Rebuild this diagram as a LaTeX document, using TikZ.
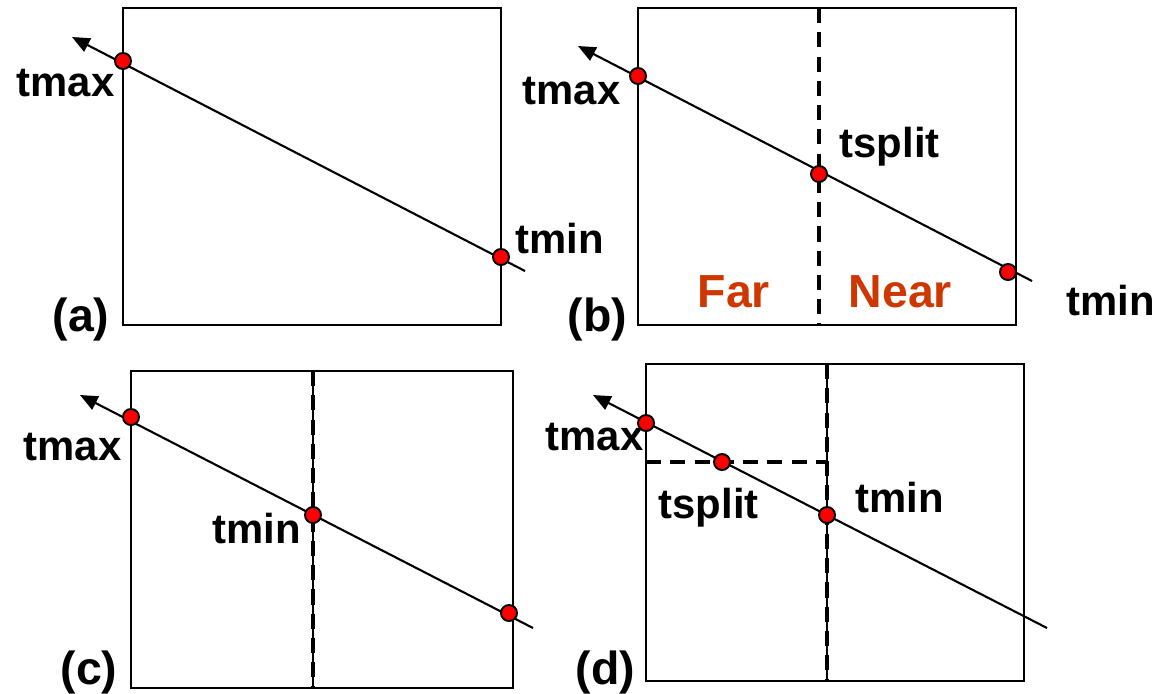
\documentclass[tikz,border=0pt]{standalone}
\usepackage{fontspec}
\setmainfont{Liberation Sans}
\usepackage{tikz}
\usetikzlibrary{arrows.meta,positioning}
\definecolor{nearred}{RGB}{206,56,0}
\tikzstyle{box} = [line width=0.75pt]
\tikzstyle{ray} = [line width=0.6pt,-{Triangle[length=5pt,width=4.2pt]}]
\tikzstyle{split} = [line width=1.1pt,dash pattern=on 4.3pt off 2.6pt]
\tikzstyle{hit} = [circle,draw=black,line width=0.55pt,fill=red,inner sep=0pt,minimum size=0.16cm]
\tikzstyle{lbl} = [inner sep=0pt,anchor=base west,font=\fontsize{11.9}{14}\selectfont\bfseries]
\tikzstyle{tag} = [inner sep=0pt,anchor=base west,font=\fontsize{13.2}{16}\selectfont\bfseries]

\begin{document}
\begin{tikzpicture}[x=0.01cm,y=-0.01cm]
	\useasboundingbox (0,0) rectangle (1158,693);
	
	\draw[box] (123,8) rectangle (501,325);
	\coordinate (a-tip) at (72,37);
	\coordinate (a-end) at (525,271);
	\draw[ray] (a-end) -- (a-tip);
	\node[hit] (a-max) at (123,61) {};
	\node[hit] (a-min) at (501,257) {};
	\node[lbl] (a-tmax) at (16,96) {tmax};
	\node[lbl] (a-tmin) at (515,253) {tmin};
	\node[tag] (a-tag) at (52,331) {(a)};
	
	\draw[box] (638,8) rectangle (1016,325);
	\coordinate (b-top) at (819,8);
	\coordinate (b-bot) at (819,325);
	\draw[split] (b-top) -- (b-bot);
	\coordinate (b-tip) at (578,46);
	\coordinate (b-end) at (1032,281);
	\draw[ray] (b-end) -- (b-tip);
	\node[hit] (b-max) at (638,76) {};
	\node[hit] (b-split) at (819,174) {};
	\node[hit] (b-min) at (1008,272) {};
	\node[lbl] (b-tmax) at (522,104) {tmax};
	\node[lbl] (b-tsplit) at (839,157) {tsplit};
	\node[lbl] (b-tmin) at (1066,315) {tmin};
	\node[tag,text=nearred] (b-far) at (697,307) {Far};
	\node[tag,text=nearred] (b-near) at (848,307) {Near};
	\node[tag] (b-tag) at (567,331) {(b)};
	
	\draw[box] (131,371) rectangle (513,688);
	\coordinate (c-top) at (313,371);
	\coordinate (c-bot) at (313,688);
	\draw[box] (c-top) -- (c-bot);
	\draw[split] (c-top) -- (c-bot);
	\coordinate (c-tip) at (80,395);
	\coordinate (c-end) at (533,628);
	\draw[ray] (c-end) -- (c-tip);
	\node[hit] (c-max) at (131,417) {};
	\node[hit] (c-min) at (313,515) {};
	\node[hit] (c-out) at (509,613) {};
	\node[lbl] (c-tmax) at (23,460) {tmax};
	\node[lbl] (c-tmin) at (212,543) {tmin};
	\node[tag] (c-tag) at (60,684) {(c)};
	
	\draw[box] (646,364) rectangle (1024,681);
	\coordinate (d-top) at (827,364);
	\coordinate (d-bot) at (827,681);
	\coordinate (d-left) at (646,462);
	\coordinate (d-mid) at (827,462);
	\draw[box] (d-top) -- (d-bot);
	\draw[split] (d-top) -- (d-bot);
	\draw[split] (d-left) -- (d-mid);
	\coordinate (d-tip) at (593,395);
	\coordinate (d-end) at (1047,628);
	\draw[ray] (d-end) -- (d-tip);
	\node[hit] (d-max) at (646,423) {};
	\node[hit] (d-split) at (722,462) {};
	\node[hit] (d-min) at (827,515) {};
	\node[lbl] (d-tmax) at (545,450) {tmax};
	\node[lbl] (d-tsplit) at (658,518) {tsplit};
	\node[lbl] (d-tmin) at (855,512) {tmin};
	\node[tag] (d-tag) at (575,684) {(d)};
\end{tikzpicture}
\end{document}
